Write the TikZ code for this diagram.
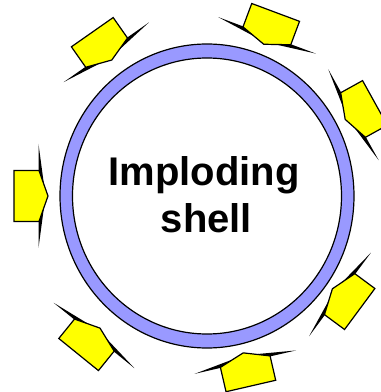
\documentclass[tikz,border=0pt]{standalone}
\usepackage{fontspec}
\setmainfont{Liberation Sans}
\definecolor{shellblue}{RGB}{153,153,255}
\definecolor{beamyellow}{RGB}{255,255,0}
\tikzset{
  shellring/.style={fill=shellblue, even odd rule},
  beamplate/.style={fill=black},
  beambody/.style={fill=beamyellow, draw=black, line width=1.2pt, line join=miter},
  shelltext/.style={font=\bfseries\fontsize{40}{47}\selectfont, anchor=base},
}
\begin{document}
\begin{tikzpicture}[x=1pt,y=1pt]
    \useasboundingbox (0,0) rectangle (381,392);
    \coordinate (C) at (207,196);

    %% Imploding shell (ring)
    \fill[shellring] (C) ellipse [x radius=147, y radius=152]
                     (C) ellipse [x radius=134.5, y radius=138];
    \draw[line width=1.2pt] (C) ellipse [x radius=147, y radius=152];
    \draw[line width=1.2pt] (C) ellipse [x radius=134.5, y radius=138];

    %% Laser beams: angle / distance of the plate from the centre
    \foreach \ang/\dist in {180/168, 125/175, 69.5/171, 29/167, -36.5/165, -77/170, -129/179} {
      \begin{scope}[shift={(C)}, rotate=\ang]
        \fill[beamplate] (\dist+0.5,52) -- (\dist-6.5,0) -- (\dist+0.5,-52) -- cycle;
        \draw[beambody] (\dist+25,25.5) -- (\dist,25.5) -- (\dist-9,0)
                        -- (\dist,-25.5) -- (\dist+25,-25.5) -- cycle;
      \end{scope}
    }

    %% Label
    \node[shelltext] (imploding) at (204,206) {Imploding};
    \node[shelltext] (shell) at (206.5,159) {shell};
\end{tikzpicture}
\end{document}
